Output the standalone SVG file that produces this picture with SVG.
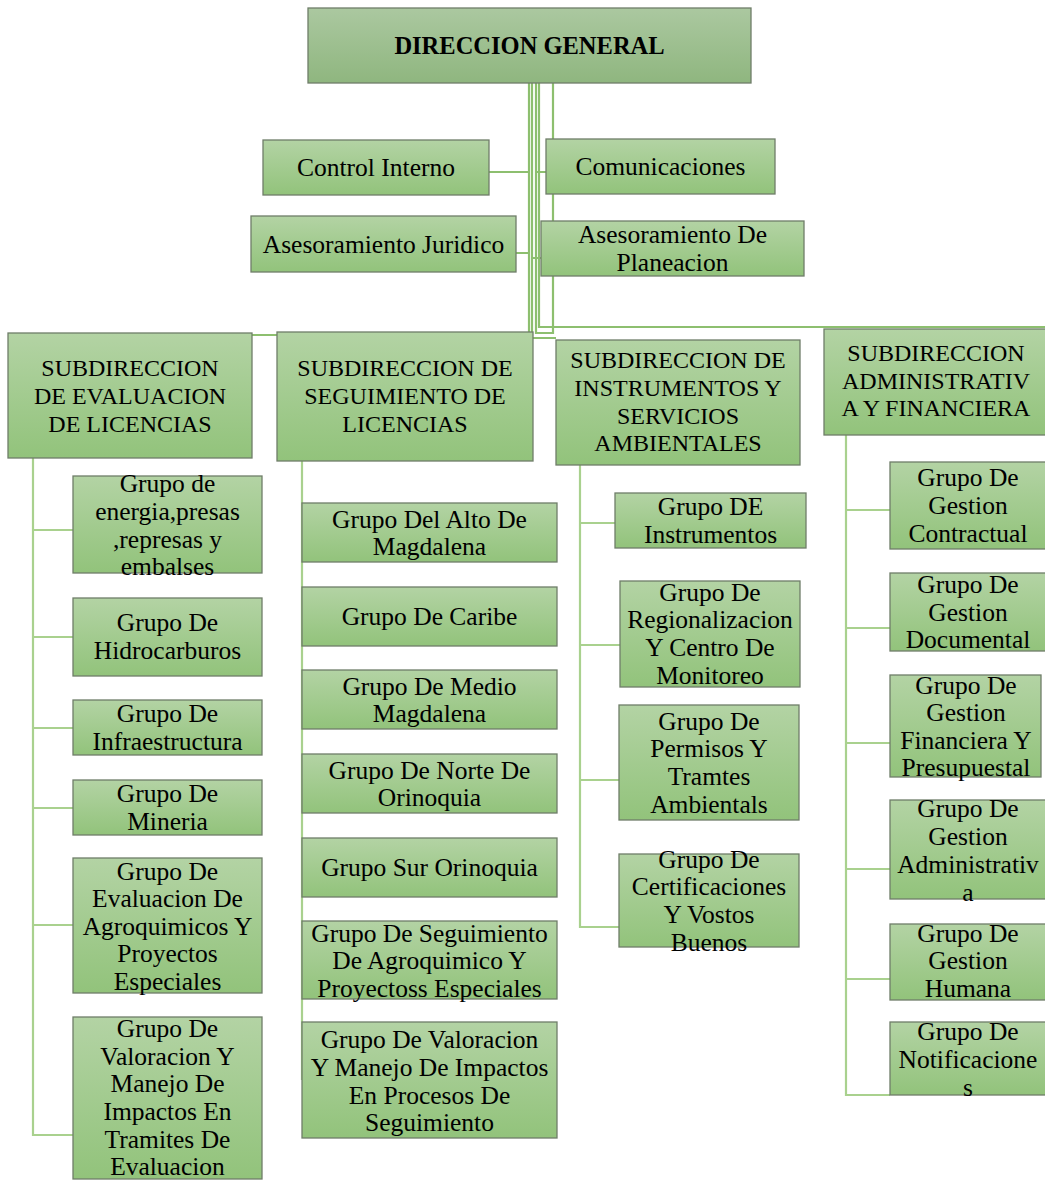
<svg xmlns="http://www.w3.org/2000/svg" width="1045" height="1180" viewBox="0 0 1045 1180">
<defs>
<linearGradient id="g" x1="0" y1="0" x2="0" y2="1">
<stop offset="0" stop-color="#b3d3a4"/>
<stop offset="1" stop-color="#92c37b"/>
</linearGradient>
<linearGradient id="gt" x1="0" y1="0" x2="0" y2="1">
<stop offset="0" stop-color="#abc8a0"/>
<stop offset="1" stop-color="#8fb67f"/>
</linearGradient>
</defs>
<rect width="1045" height="1180" fill="#fff"/>
<g id="connectors" fill="none" stroke-width="2.2">
<path stroke="#8dbf6f" d="M529 83V338H556M532 83V335H252M536 83V333H553V83M539 83V327H1045"/>
<path stroke="#8dbf6f" d="M489 172H529M546 172H536M516 253H529M541 258H532"/>
<path stroke="#a9d18e" d="M33 458V1135H73M33 530H73M33 637H73M33 728H73M33 808H73M33 925H73"/>
<path stroke="#a9d18e" d="M302 461V1080"/>
<path stroke="#a9d18e" d="M580 465V927H619M580 523H615M580 645H620M580 780H619"/>
<path stroke="#a9d18e" d="M846 435V1095H890M846 510H890M846 628H890M846 743H890M846 869H890M846 979H890"/>
</g>
<g id="nodes" font-family="Liberation Serif" text-anchor="middle" font-size="25.5">
<g id="n-direccion"><rect fill="url(#gt)" stroke="#6f7d69" stroke-width="1.3" x="308" y="8" width="443" height="75"/><text font-family="Liberation Serif" font-weight="bold" font-size="24.5" x="529.5" y="54">DIRECCION GENERAL</text></g>
<g id="n-control"><rect fill="url(#g)" stroke="#6f7d69" stroke-width="1.3" x="263" y="140" width="226" height="55"/><text font-family="Liberation Serif" x="376" y="176">Control Interno</text></g>
<g id="n-comunicaciones"><rect fill="url(#g)" stroke="#6f7d69" stroke-width="1.3" x="546" y="139" width="229" height="55"/><text font-family="Liberation Serif" x="660.5" y="175">Comunicaciones</text></g>
<g id="n-juridico"><rect fill="url(#g)" stroke="#6f7d69" stroke-width="1.3" x="251" y="216" width="265" height="56"/><text font-family="Liberation Serif" x="383.5" y="253">Asesoramiento Juridico</text></g>
<g id="n-planeacion"><rect fill="url(#g)" stroke="#6f7d69" stroke-width="1.3" x="541" y="221" width="263" height="55"/><text font-family="Liberation Serif"><tspan x="672.5" y="243">Asesoramiento De</tspan><tspan x="672.5" y="271">Planeacion</tspan></text></g>

<g id="n-sub-evaluacion"><rect fill="url(#g)" stroke="#6f7d69" stroke-width="1.3" x="8" y="333" width="244" height="125"/><text font-family="Liberation Serif" font-size="24"><tspan x="130" y="376">SUBDIRECCION</tspan><tspan x="130" y="404">DE EVALUACION</tspan><tspan x="130" y="432">DE LICENCIAS</tspan></text></g>
<g id="n-sub-seguimiento"><rect fill="url(#g)" stroke="#6f7d69" stroke-width="1.3" x="277" y="332" width="256" height="129"/><text font-family="Liberation Serif" font-size="24"><tspan x="405" y="376">SUBDIRECCION DE</tspan><tspan x="405" y="404">SEGUIMIENTO DE</tspan><tspan x="405" y="432">LICENCIAS</tspan></text></g>
<g id="n-sub-instrumentos"><rect fill="url(#g)" stroke="#6f7d69" stroke-width="1.3" x="556" y="340" width="244" height="125"/><text font-family="Liberation Serif" font-size="24"><tspan x="678" y="368">SUBDIRECCION DE</tspan><tspan x="678" y="396">INSTRUMENTOS Y</tspan><tspan x="678" y="424">SERVICIOS</tspan><tspan x="678" y="451">AMBIENTALES</tspan></text></g>
<g id="n-sub-administrativa"><rect fill="url(#g)" stroke="#6f7d69" stroke-width="1.3" x="824" y="329" width="222" height="106"/><text font-family="Liberation Serif" font-size="24"><tspan x="936" y="361">SUBDIRECCION</tspan><tspan x="936" y="389">ADMINISTRATIV</tspan><tspan x="936" y="416">A Y FINANCIERA</tspan></text></g>

<g id="n-e1"><rect fill="url(#g)" stroke="#6f7d69" stroke-width="1.3" x="73" y="476" width="189" height="97"/><text font-family="Liberation Serif"><tspan x="167.5" y="492">Grupo de</tspan><tspan x="167.5" y="520">energia,presas</tspan><tspan x="167.5" y="548">,represas y</tspan><tspan x="167.5" y="575">embalses</tspan></text></g>
<g id="n-e2"><rect fill="url(#g)" stroke="#6f7d69" stroke-width="1.3" x="73" y="598" width="189" height="78"/><text font-family="Liberation Serif"><tspan x="167.5" y="631">Grupo De</tspan><tspan x="167.5" y="659">Hidrocarburos</tspan></text></g>
<g id="n-e3"><rect fill="url(#g)" stroke="#6f7d69" stroke-width="1.3" x="73" y="700" width="189" height="55"/><text font-family="Liberation Serif"><tspan x="167.5" y="722">Grupo De</tspan><tspan x="167.5" y="750">Infraestructura</tspan></text></g>
<g id="n-e4"><rect fill="url(#g)" stroke="#6f7d69" stroke-width="1.3" x="73" y="780" width="189" height="55"/><text font-family="Liberation Serif"><tspan x="167.5" y="802">Grupo De</tspan><tspan x="167.5" y="830">Mineria</tspan></text></g>
<g id="n-e5"><rect fill="url(#g)" stroke="#6f7d69" stroke-width="1.3" x="73" y="858" width="189" height="135"/><text font-family="Liberation Serif"><tspan x="167.5" y="880">Grupo De</tspan><tspan x="167.5" y="907">Evaluacion De</tspan><tspan x="167.5" y="935">Agroquimicos Y</tspan><tspan x="167.5" y="962">Proyectos</tspan><tspan x="167.5" y="990">Especiales</tspan></text></g>
<g id="n-e6"><rect fill="url(#g)" stroke="#6f7d69" stroke-width="1.3" x="73" y="1017" width="189" height="162"/><text font-family="Liberation Serif"><tspan x="167.5" y="1037">Grupo De</tspan><tspan x="167.5" y="1065">Valoracion Y</tspan><tspan x="167.5" y="1092">Manejo De</tspan><tspan x="167.5" y="1120">Impactos En</tspan><tspan x="167.5" y="1148">Tramites De</tspan><tspan x="167.5" y="1175">Evaluacion</tspan></text></g>

<g id="n-s1"><rect fill="url(#g)" stroke="#6f7d69" stroke-width="1.3" x="302" y="503" width="255" height="59"/><text font-family="Liberation Serif"><tspan x="429.5" y="528">Grupo Del Alto De</tspan><tspan x="429.5" y="555">Magdalena</tspan></text></g>
<g id="n-s2"><rect fill="url(#g)" stroke="#6f7d69" stroke-width="1.3" x="302" y="587" width="255" height="59"/><text font-family="Liberation Serif" x="429.5" y="625">Grupo De Caribe</text></g>
<g id="n-s3"><rect fill="url(#g)" stroke="#6f7d69" stroke-width="1.3" x="302" y="670" width="255" height="59"/><text font-family="Liberation Serif"><tspan x="429.5" y="695">Grupo De Medio</tspan><tspan x="429.5" y="722">Magdalena</tspan></text></g>
<g id="n-s4"><rect fill="url(#g)" stroke="#6f7d69" stroke-width="1.3" x="302" y="754" width="255" height="59"/><text font-family="Liberation Serif"><tspan x="429.5" y="779">Grupo De Norte De</tspan><tspan x="429.5" y="806">Orinoquia</tspan></text></g>
<g id="n-s5"><rect fill="url(#g)" stroke="#6f7d69" stroke-width="1.3" x="302" y="838" width="255" height="59"/><text font-family="Liberation Serif" x="429.5" y="876">Grupo Sur Orinoquia</text></g>
<g id="n-s6"><rect fill="url(#g)" stroke="#6f7d69" stroke-width="1.3" x="302" y="921" width="255" height="78"/><text font-family="Liberation Serif"><tspan x="429.5" y="942">Grupo De Seguimiento</tspan><tspan x="429.5" y="969">De Agroquimico Y</tspan><tspan x="429.5" y="997">Proyectoss Especiales</tspan></text></g>
<g id="n-s7"><rect fill="url(#g)" stroke="#6f7d69" stroke-width="1.3" x="302" y="1022" width="255" height="116"/><text font-family="Liberation Serif"><tspan x="429.5" y="1048">Grupo De Valoracion</tspan><tspan x="429.5" y="1076">Y Manejo De Impactos</tspan><tspan x="429.5" y="1104">En Procesos De</tspan><tspan x="429.5" y="1131">Seguimiento</tspan></text></g>

<g id="n-i1"><rect fill="url(#g)" stroke="#6f7d69" stroke-width="1.3" x="615" y="493" width="191" height="55"/><text font-family="Liberation Serif"><tspan x="710.5" y="515">Grupo DE</tspan><tspan x="710.5" y="543">Instrumentos</tspan></text></g>
<g id="n-i2"><rect fill="url(#g)" stroke="#6f7d69" stroke-width="1.3" x="620" y="581" width="180" height="106"/><text font-family="Liberation Serif"><tspan x="710" y="601">Grupo De</tspan><tspan x="710" y="628">Regionalizacion</tspan><tspan x="710" y="656">Y Centro De</tspan><tspan x="710" y="684">Monitoreo</tspan></text></g>
<g id="n-i3"><rect fill="url(#g)" stroke="#6f7d69" stroke-width="1.3" x="619" y="705" width="180" height="115"/><text font-family="Liberation Serif"><tspan x="709" y="730">Grupo De</tspan><tspan x="709" y="757">Permisos Y</tspan><tspan x="709" y="785">Tramtes</tspan><tspan x="709" y="813">Ambientals</tspan></text></g>
<g id="n-i4"><rect fill="url(#g)" stroke="#6f7d69" stroke-width="1.3" x="619" y="854" width="180" height="93"/><text font-family="Liberation Serif"><tspan x="709" y="868">Grupo De</tspan><tspan x="709" y="895">Certificaciones</tspan><tspan x="709" y="923">Y Vostos</tspan><tspan x="709" y="951">Buenos</tspan></text></g>

<g id="n-a1"><rect fill="url(#g)" stroke="#6f7d69" stroke-width="1.3" x="890" y="462" width="156" height="87"/><text font-family="Liberation Serif"><tspan x="968" y="486">Grupo De</tspan><tspan x="968" y="514">Gestion</tspan><tspan x="968" y="542">Contractual</tspan></text></g>
<g id="n-a2"><rect fill="url(#g)" stroke="#6f7d69" stroke-width="1.3" x="890" y="573" width="156" height="78"/><text font-family="Liberation Serif"><tspan x="968" y="593">Grupo De</tspan><tspan x="968" y="621">Gestion</tspan><tspan x="968" y="648">Documental</tspan></text></g>
<g id="n-a3"><rect fill="url(#g)" stroke="#6f7d69" stroke-width="1.3" x="890" y="675" width="151" height="102"/><text font-family="Liberation Serif"><tspan x="966" y="694">Grupo De</tspan><tspan x="966" y="721">Gestion</tspan><tspan x="966" y="749">Financiera Y</tspan><tspan x="966" y="776">Presupuestal</tspan></text></g>
<g id="n-a4"><rect fill="url(#g)" stroke="#6f7d69" stroke-width="1.3" x="890" y="800" width="156" height="99"/><text font-family="Liberation Serif"><tspan x="968" y="817">Grupo De</tspan><tspan x="968" y="845">Gestion</tspan><tspan x="968" y="873">Administrativ</tspan><tspan x="968" y="901">a</tspan></text></g>
<g id="n-a5"><rect fill="url(#g)" stroke="#6f7d69" stroke-width="1.3" x="890" y="924" width="156" height="76"/><text font-family="Liberation Serif"><tspan x="968" y="942">Grupo De</tspan><tspan x="968" y="969">Gestion</tspan><tspan x="968" y="997">Humana</tspan></text></g>
<g id="n-a6"><rect fill="url(#g)" stroke="#6f7d69" stroke-width="1.3" x="890" y="1022" width="156" height="73"/><text font-family="Liberation Serif"><tspan x="968" y="1040">Grupo De</tspan><tspan x="968" y="1068">Notificacione</tspan><tspan x="968" y="1096">s</tspan></text></g>
</g>
</svg>
